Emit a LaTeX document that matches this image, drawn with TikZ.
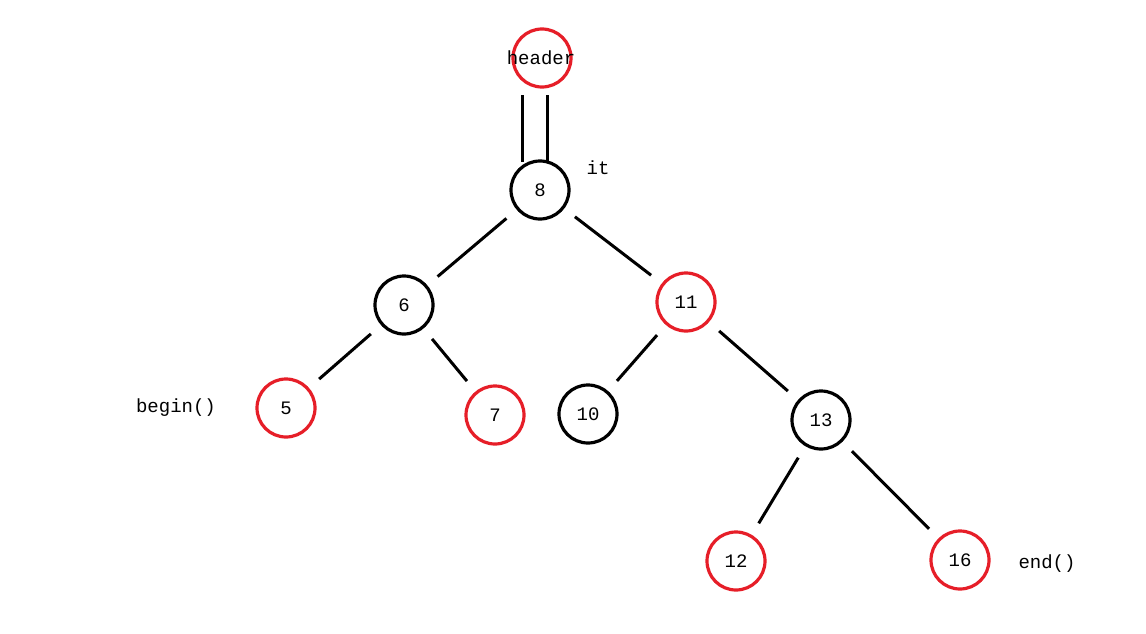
\documentclass[tikz,border=0pt]{standalone}
\usepackage{fontspec}
\setmainfont{Liberation Mono}
\begin{document}
\begin{tikzpicture}[x=1pt,y=-1pt,
  nd/.style={circle,draw,line width=3.2pt,minimum size=58pt,inner sep=0pt,font=\fontsize{19}{19}\selectfont},
  rd/.style={nd,draw={rgb,255:red,230;green,30;blue,40}},
  bk/.style={nd,draw=black},
  ed/.style={line width=3pt,shorten <=44pt,shorten >=44pt},
  lb/.style={font=\fontsize{19}{19}\selectfont}]
\useasboundingbox (0,0) rectangle (1146,634);
\node[rd] (h) at (542,58) {};
\node[lb] (ht) at (541,58) {header};
\node[bk] (n8) at (540,190) {8};
\node[bk] (n6) at (404,305) {6};
\node[rd] (n11) at (686,302) {11};
\node[rd] (n5) at (286,408) {5};
\node[rd] (n7) at (495,415) {7};
\node[bk] (n10) at (588,414) {10};
\node[bk] (n13) at (821,420) {13};
\node[rd] (n12) at (736,561) {12};
\node[rd] (n16) at (960,560) {16};
\node[lb] (it) at (598,168) {it};
\node[lb] (bg) at (176,408) {begin()};
\node[lb] (en) at (1047,564) {end()};
\draw[line width=3pt] ([xshift=-20pt,yshift=-37pt]h.center) -- ([xshift=-18pt,yshift=28pt]n8.center);
\draw[line width=3pt] ([xshift=5pt,yshift=-37pt]h.center) -- ([xshift=7pt,yshift=28pt]n8.center);
\draw[ed] (n8.center) -- (n6.center);
\draw[ed] (n8.center) -- (n11.center);
\draw[ed] (n6.center) -- (n5.center);
\draw[ed] (n6.center) -- (n7.center);
\draw[ed] (n11.center) -- (n10.center);
\draw[ed] (n11.center) -- (n13.center);
\draw[ed] (n13.center) -- (n12.center);
\draw[ed] (n13.center) -- (n16.center);
\end{tikzpicture}
\end{document}
